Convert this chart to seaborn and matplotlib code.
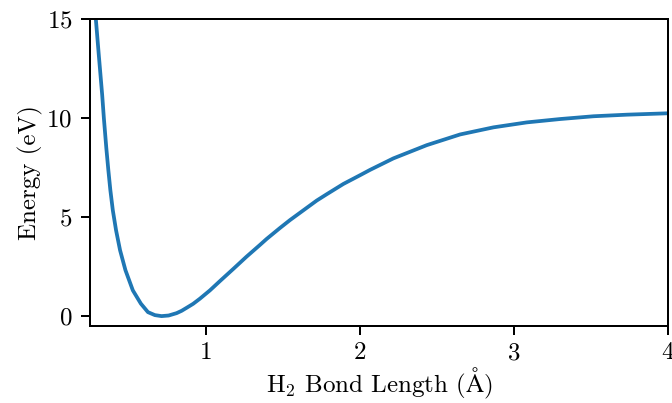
import matplotlib
matplotlib.use("Agg")
import matplotlib.pyplot as plt
import seaborn as sns
import pandas as pd

# H2 potential energy curve: bond length (Angstrom) vs energy (eV)
bond_length = [0.288, 0.307, 0.329, 0.340, 0.356, 0.369, 0.382, 0.398, 0.419,
               0.445, 0.480, 0.528, 0.580, 0.626, 0.671, 0.714, 0.760, 0.812,
               0.845, 0.877, 0.919, 0.963, 1.028, 1.093, 1.179, 1.265, 1.353,
               1.396, 1.482, 1.547, 1.612, 1.721, 1.786, 1.894, 2.002, 2.067,
               2.218, 2.435, 2.651, 2.868, 3.084, 3.301, 3.517, 3.734, 4.000]
energy = [15.00, 13.20, 11.18, 10.00, 8.48, 7.38, 6.37, 5.35, 4.34,
          3.33, 2.32, 1.30, 0.63, 0.20, 0.05, 0.00, 0.03, 0.15,
          0.27, 0.42, 0.62, 0.88, 1.30, 1.77, 2.38, 3.00, 3.60,
          3.90, 4.45, 4.85, 5.22, 5.84, 6.16, 6.68, 7.12, 7.39,
          7.97, 8.64, 9.18, 9.54, 9.79, 9.96, 10.10, 10.18, 10.25]

x_ticks = [1, 2, 3, 4]
y_ticks = [0, 5, 10, 15]

plt.rcParams.update({
    "font.family": "serif",
    "font.serif": ["cmr10"],
    "mathtext.fontset": "cm",
    "axes.formatter.use_mathtext": True,
    "font.size": 10,
    "axes.linewidth": 0.8,
    "xtick.major.pad": 3.0,
})

df = pd.DataFrame({"r": bond_length, "E": energy})

fig = plt.figure(figsize=(672 / 180, 403 / 180), dpi=180)
ax = fig.add_axes([90 / 672, 1 - 326 / 403, 578 / 672, (326 - 19.3) / 403])
sns.lineplot(data=df, x="r", y="E", ax=ax, color="#1f77b4", linewidth=1.5,
             sort=False)

ax.set_xlim(0.25, 4)
ax.set_ylim(-0.5, 15)
ax.set_xticks(x_ticks)
ax.set_yticks(y_ticks)
ax.set_xlabel(r"H$_2$ Bond Length ($\mathrm{\AA}$)", labelpad=0.5)
ax.set_ylabel("Energy (eV)", labelpad=1.5)

fig.savefig("out.png", dpi=180)
